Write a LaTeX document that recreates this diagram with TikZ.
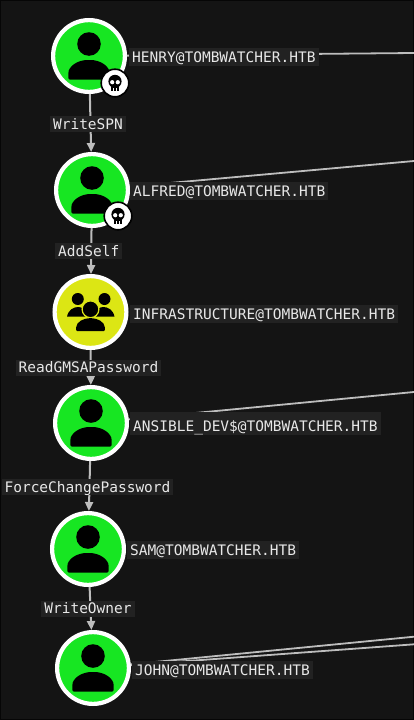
\documentclass[tikz,border=0pt]{standalone}
\usepackage{fontspec}
\newfontfamily\labfont{DejaVu Sans Mono}
\usetikzlibrary{arrows.meta}
\definecolor{bgc}{HTML}{141414}
\definecolor{edgec}{HTML}{BDBDBD}
\definecolor{labbg}{HTML}{222222}
\definecolor{labfg}{HTML}{E8E8E8}
\definecolor{usergreen}{HTML}{17E622}
\definecolor{groupyellow}{HTML}{DCE614}
\tikzset{
  x=1pt,y=-1pt,
  entity/.style={circle,draw=white,line width=4.2pt,minimum size=71.8pt,inner sep=0pt},
  userc/.style={entity,fill=usergreen},
  groupc/.style={entity,fill=groupyellow},
  badge/.style={circle,draw=black,line width=1.6pt,fill=white,minimum size=27.6pt,inner sep=0pt},
  link/.style={draw=edgec,line width=1.8pt},
  arrowlink/.style={draw=edgec,line width=2pt,-{Triangle[length=9pt,width=8pt]}},
  textbox/.style={fill=labbg,text=labfg,font=\labfont\fontsize{14.5}{16}\selectfont,inner xsep=3pt,inner ysep=0pt,text height=13.3pt,text depth=2.7pt},
  namebox/.style={textbox,anchor=west,text height=15pt,text depth=3.5pt},
  person/.pic={
    \fill[black] (0,-12) circle[radius=11.8];
    \fill[black,rounded corners=1.5pt] (-20.7,23.6) -- (-20.7,19) .. controls (-20.7,10) and (-11,4) .. (0,4) .. controls (11,4) and (20.7,10) .. (20.7,19) -- (20.7,23.6) -- cycle;
  },
  people/.pic={
    \fill[black] (-12.7,-13) circle[radius=6];
    \fill[black] (14,-13) circle[radius=6];
    \fill[black] (-23.5,4.7) .. controls (-22,-2.5) and (-17,-5) .. (-12,-5) .. controls (-8,-5) and (-5,-2) .. (-5,4.7) -- cycle;
    \fill[black] (24,4.7) .. controls (22.5,-2.5) and (17.5,-5) .. (12.5,-5) .. controls (8.5,-5) and (5.5,-2) .. (5.5,4.7) -- cycle;
    \fill[black,draw=groupyellow,line width=1.2pt] (0,-2.7) circle[radius=8.4];
    \fill[black,rounded corners=1pt] (-14.3,19) -- (-14.3,16) .. controls (-14,10) and (-7,6.2) .. (0,6.2) .. controls (7,6.2) and (14,10) .. (14.3,16) -- (14.3,19) -- cycle;
  },
  skull/.pic={
    \fill[black] (-3.8,3) -- (-3.8,8.3) -- (3.8,8.3) -- (3.8,3) -- cycle;
    \fill[black] (0,-1.6) ellipse[x radius=6.6,y radius=6.6];
    \fill[white] (-2.8,-0.8) circle[radius=2.1];
    \fill[white] (2.8,-0.8) circle[radius=2.1];
    \draw[white,line width=.7pt] (-1.2,5.4) -- (-1.2,8.4) (1.2,5.4) -- (1.2,8.4);
  },
}
\begin{document}
\begin{tikzpicture}
\useasboundingbox (0,0) rectangle (414,720);
\fill[bgc] (0,0) rectangle (414,720);
\draw[black!70!bgc,line width=2pt] (0,0) rectangle (414,720);
% entities
\node[userc] (henry) at (89,56) {};
\node[userc] (alfred) at (92,190) {};
\node[groupc] (infra) at (90.5,312) {};
\node[userc] (ansible) at (91,423) {};
\node[userc] (sam) at (88,549) {};
\node[userc] (john) at (93,668) {};
% free ends
\coordinate (offa) at (414,53);
\coordinate (offb) at (414,161);
\coordinate (offc) at (414,392);
\coordinate (offd) at (414,636.7);
\coordinate (offe) at (414,644.3);
% connectors
\draw[link] (henry) -- (offa);
\draw[link] (alfred) -- (offb);
\draw[link] (ansible) -- (offc);
\draw[link] (john) -- (offd);
\draw[link] (john) -- (offe);
\draw[arrowlink] (henry) -- (alfred);
\draw[arrowlink] (alfred) -- (infra);
\draw[arrowlink] (infra) -- (ansible);
\draw[arrowlink] (ansible) -- (sam);
\draw[arrowlink] (sam) -- (john);
% icons
\pic at (henry) {person};
\pic at (alfred) {person};
\pic at (infra) {people};
\pic at (ansible) {person};
\pic at (sam) {person};
\pic at (john) {person};
% badges
\node[badge] (bh) at (115,83) {};
\pic at (bh) {skull};
\node[badge] (ba) at (118,216) {};
\pic at (ba) {skull};
% edge labels
\node[textbox] (e1) at (88,124) {WriteSPN};
\node[textbox] (e2) at (88.7,251) {AddSelf};
\node[textbox] (e3) at (88.5,367.5) {ReadGMSAPassword};
\node[textbox] (e4) at (87.5,487) {ForceChangePassword};
\node[textbox] (e5) at (88,608.5) {WriteOwner};
% name labels
\node[namebox] (n1) at (129,57) {HENRY@TOMBWATCHER.HTB};
\node[namebox] (n2) at (130,191) {ALFRED@TOMBWATCHER.HTB};
\node[namebox] (n3) at (130,314) {INFRASTRUCTURE@TOMBWATCHER.HTB};
\node[namebox,text height=19pt,text depth=4pt] (n4) at (130,423.5) {ANSIBLE\_DEV\$@TOMBWATCHER.HTB};
\node[namebox] (n5) at (127,550) {SAM@TOMBWATCHER.HTB};
\node[namebox] (n6) at (132,669.75) {JOHN@TOMBWATCHER.HTB};
\end{tikzpicture}
\end{document}
